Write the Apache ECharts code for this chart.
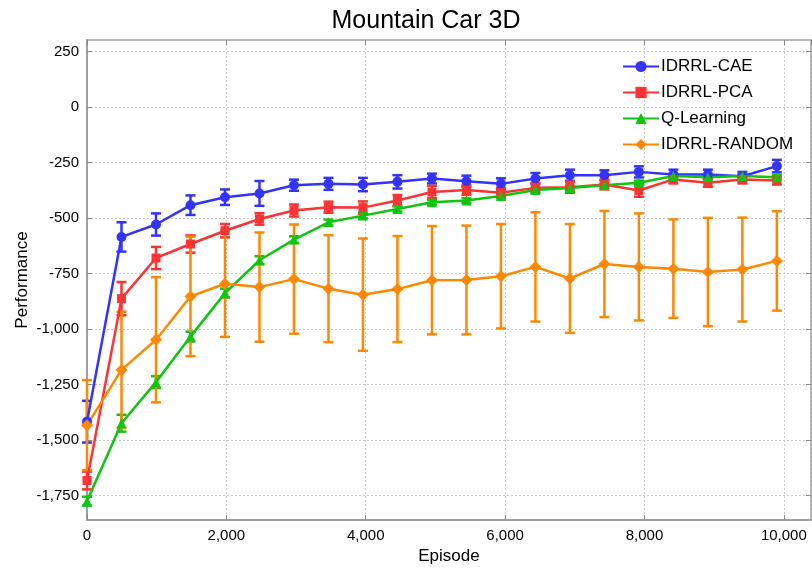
<!DOCTYPE html>
<html>
<head>
<meta charset="utf-8">
<script src="https://cdn.jsdelivr.net/npm/echarts@6/dist/echarts.min.js"></script>
<style>
  html, body { margin: 0; padding: 0; background: #fff; }
  #myChart { width: 812px; height: 568px; }
</style>
</head>
<body>
<div id="myChart"></div>
<script>
// episodes (x)
const episodes = [0, 495, 990, 1485, 1980, 2475, 2970, 3465, 3960, 4455, 4950,
  5445, 5940, 6435, 6930, 7425, 7920, 8415, 8910, 9405, 9900];

const caeMean = [-1417, -585, -529, -442, -406, -389, -352, -346, -349, -337, -322,
  -334, -346, -322, -307, -307, -292, -304, -304, -312, -266];
const caeErr = [94, 66, 50, 44, 35, 56, 25, 27, 30, 30, 22, 25, 25, 25, 25, 22, 25, 22, 22, 20, 28];

const pcaMean = [-1682, -863, -680, -617, -557, -504, -466, -451, -453, -421, -383,
  -374, -386, -364, -361, -349, -376, -326, -341, -326, -331];
const pcaErr = [40, 75, 50, 39, 30, 26, 27, 25, 28, 25, 28, 22, 22, 22, 25, 22, 28, 18, 18, 18, 18];

const qlMean = [-1775, -1424, -1239, -1034, -838, -690, -597, -519, -489, -459, -429,
  -421, -401, -374, -365, -352, -341, -311, -316, -311, -316];
const qlErr = [20, 38, 27, 22, 20, 18, 15, 12, 12, 12, 10, 10, 10, 10, 10, 10, 10, 10, 10, 10, 10];

const rndMean = [-1433, -1184, -1048, -853, -796, -811, -775, -818, -845, -820, -780,
  -779, -762, -720, -772, -707, -720, -728, -743, -732, -693];
const rndErr = [203, 262, 282, 269, 239, 246, 246, 241, 253, 239, 244, 245, 235, 246, 245, 239, 241, 222, 244, 234, 224];

const yTicks = [-1750, -1500, -1250, -1000, -750, -500, -250, 0, 250];

const fmt = v => Number(v).toLocaleString('en-US');

function lineSeries(name, mean, color, symbol, size) {
  return {
    name: name,
    type: 'line',
    symbol: symbol,
    symbolSize: size,
    showSymbol: true,
    animation: false,
    z: 3,
    lineStyle: { color: color, width: 2.5 },
    itemStyle: { color: color },
    data: episodes.map((x, i) => [x, mean[i]])
  };
}

// vertical error bar with caps, drawn through the axis scales
function errSeries(name, mean, err, color) {
  return {
    name: name + '-err',
    type: 'custom',
    animation: false,
    z: 2,
    renderItem: (params, api) => {
      const x = api.value(0);
      const top = api.coord([x, api.value(2)]);
      const bot = api.coord([x, api.value(1)]);
      const w = 5;
      const style = { stroke: color, lineWidth: 2.5 };
      return {
        type: 'group',
        children: [
          { type: 'line', shape: { x1: top[0], y1: top[1], x2: bot[0], y2: bot[1] }, style: style },
          { type: 'line', shape: { x1: top[0] - w, y1: top[1], x2: top[0] + w, y2: top[1] }, style: style },
          { type: 'line', shape: { x1: bot[0] - w, y1: bot[1], x2: bot[0] + w, y2: bot[1] }, style: style }
        ]
      };
    },
    encode: { x: 0, y: [1, 2] },
    data: episodes.map((x, i) => [x, mean[i] - err[i], mean[i] + err[i]])
  };
}

const blue = '#3333ff', red = '#ff3333', green = '#11c411', orange = '#ff8800';
const axisGrey = '#a0a0a0';

const option = {
  backgroundColor: '#fff',
  title: {
    text: 'Mountain Car 3D',
    left: 421,
    top: 4,
    textAlign: 'center',
    textStyle: { fontFamily: 'Liberation Sans', fontSize: 25, fontWeight: 'normal', color: '#000' }
  },
  legend: {
    left: 617,
    top: 53,
    orient: 'vertical',
    itemWidth: 36,
    itemHeight: 14,
    itemGap: 9,
    data: ['IDRRL-CAE', 'IDRRL-PCA', 'Q-Learning', 'IDRRL-RANDOM'],
    textStyle: { fontFamily: 'Liberation Sans', fontSize: 17, color: '#000', padding: [0, 0, 0, -3] }
  },
  grid: { left: 87, top: 40, right: 1, bottom: 48, outerBoundsMode: 'none' },
  xAxis: [{
    type: 'value',
    min: 0,
    max: 10390,
    interval: 2000,
    name: 'Episode',
    nameLocation: 'middle',
    nameGap: 28,
    nameTextStyle: { fontFamily: 'Liberation Sans', fontSize: 17, color: '#000' },
    axisLine: { show: true, onZero: false, lineStyle: { color: axisGrey, width: 2 } },
    axisTick: { show: true, inside: true, length: 5, lineStyle: { color: '#888' } },
    axisLabel: { formatter: v => fmt(v), showMaxLabel: false, fontFamily: 'Liberation Sans', fontSize: 15, color: '#000', margin: 8 },
    splitLine: { show: true, lineStyle: { type: [2, 2], color: '#c8c8c8' } }
  }, {
    type: 'value',
    position: 'top',
    min: 0,
    max: 10390,
    interval: 2000,
    axisLine: { show: true, onZero: false, lineStyle: { color: axisGrey, width: 1.5 } },
    axisTick: { show: true, inside: true, length: 5, lineStyle: { color: '#888' } },
    axisLabel: { show: false },
    splitLine: { show: false }
  }],
  yAxis: [{
    type: 'value',
    min: -1860,
    max: 302,
    name: 'Performance',
    nameLocation: 'middle',
    nameGap: 56,
    nameMoveOverlap: false,
    nameTextStyle: { fontFamily: 'Liberation Sans', fontSize: 17, color: '#000' },
    axisLine: { show: true, onZero: false, lineStyle: { color: axisGrey, width: 2 } },
    axisTick: { show: true, inside: true, length: 5, customValues: yTicks, lineStyle: { color: '#888' } },
    axisLabel: { customValues: yTicks, formatter: v => fmt(v), fontFamily: 'Liberation Sans', fontSize: 15, color: '#000', margin: 8 },
    splitLine: { show: true, lineStyle: { type: [2, 2], color: '#c8c8c8' } }
  }, {
    type: 'value',
    position: 'right',
    min: -1860,
    max: 302,
    axisLine: { show: true, onZero: false, lineStyle: { color: axisGrey, width: 1.5 } },
    axisTick: { show: true, inside: true, length: 5, customValues: yTicks, lineStyle: { color: '#888' } },
    axisLabel: { show: false },
    splitLine: { show: false }
  }],
  series: [
    errSeries('IDRRL-CAE', caeMean, caeErr, blue),
    lineSeries('IDRRL-CAE', caeMean, blue, 'circle', 10),
    errSeries('IDRRL-PCA', pcaMean, pcaErr, red),
    lineSeries('IDRRL-PCA', pcaMean, red, 'rect', 9),
    errSeries('Q-Learning', qlMean, qlErr, green),
    lineSeries('Q-Learning', qlMean, green, 'triangle', 10),
    errSeries('IDRRL-RANDOM', rndMean, rndErr, orange),
    lineSeries('IDRRL-RANDOM', rndMean, orange, 'diamond', 12)
  ]
};

const myChart = echarts.init(document.getElementById('myChart'));
myChart.setOption(option);
</script>
</body>
</html>
